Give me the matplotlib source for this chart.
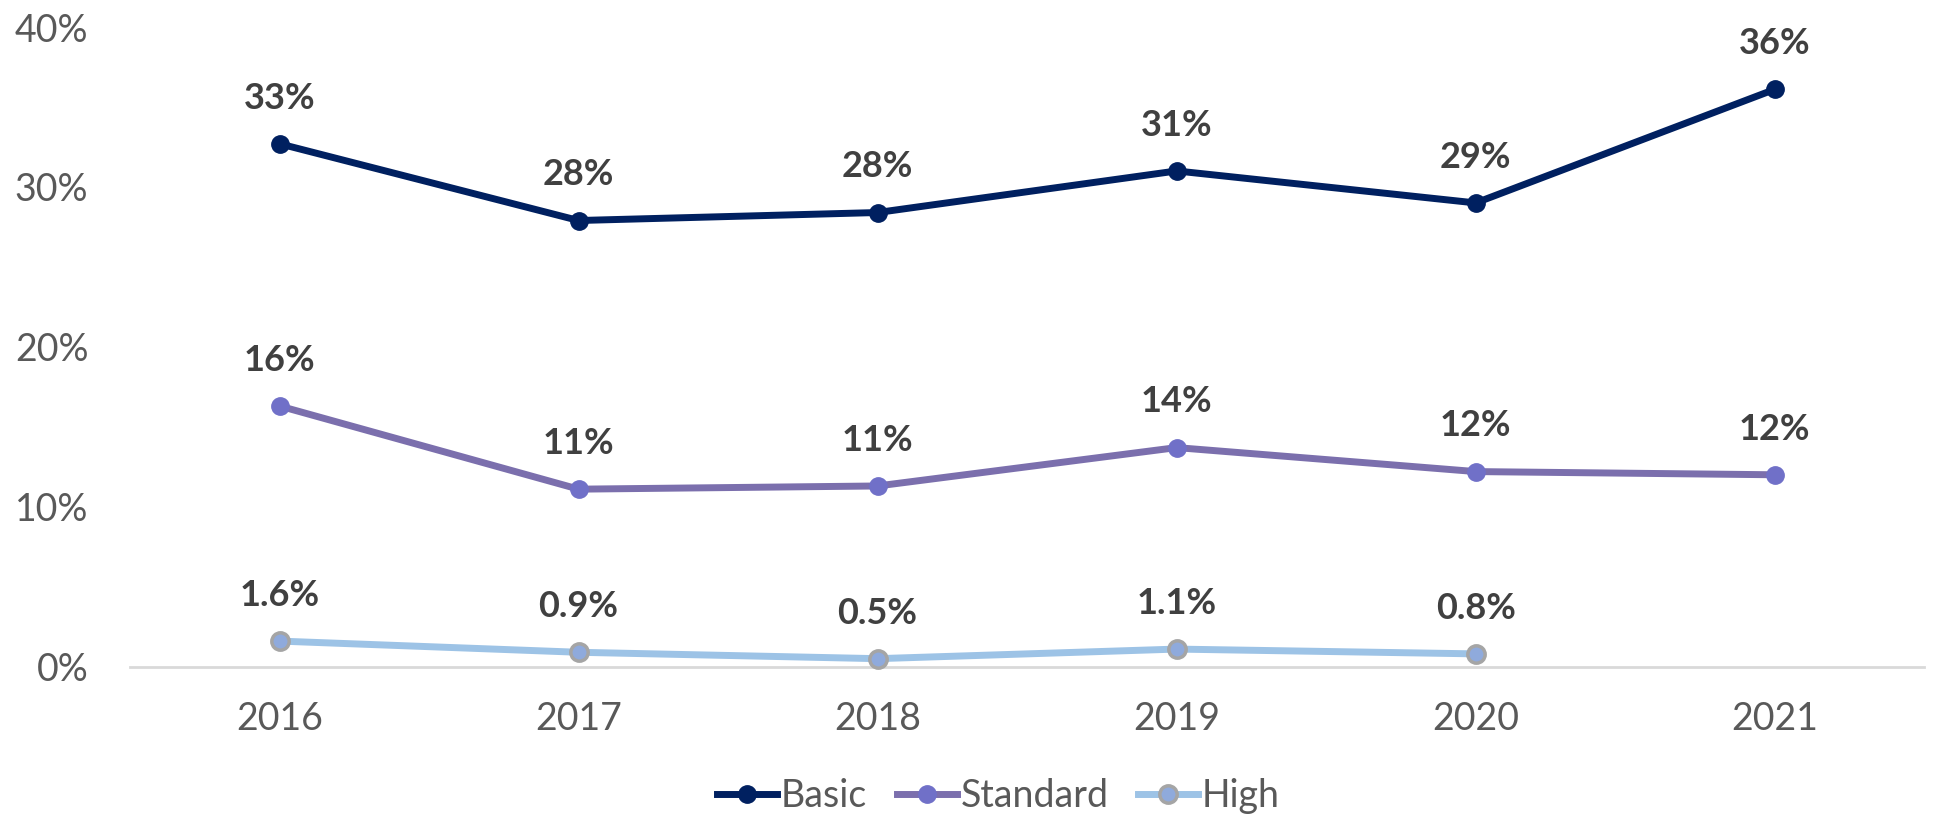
import matplotlib
matplotlib.use("Agg")
import matplotlib.pyplot as plt
from matplotlib.ticker import FuncFormatter

plt.rcParams['font.family'] = ['Lato', 'DejaVu Sans']

years = ['2016', '2017', '2018', '2019', '2020', '2021']
basic = [32.7, 27.9, 28.4, 31.0, 29.0, 36.1]
standard = [16.3, 11.1, 11.3, 13.7, 12.2, 12.0]
high = [1.6, 0.9, 0.5, 1.1, 0.8]

basic_lbl = ['33%', '28%', '28%', '31%', '29%', '36%']
standard_lbl = ['16%', '11%', '11%', '14%', '12%', '12%']
high_lbl = ['1.6%', '0.9%', '0.5%', '1.1%', '0.8%']

fig = plt.figure(figsize=(19.46, 8.19), dpi=100)
ax = fig.add_axes([0.0668, 0.186, 0.922, 0.781])

x = list(range(len(years)))
ax.plot(x, basic, color='#002060', lw=5, marker='o', ms=12.5,
        mfc='#002060', mec='#002060', label='Basic', clip_on=False, zorder=3)
ax.plot(x, standard, color='#7B6FAD', lw=5, marker='o', ms=12.5,
        mfc='#7070C8', mec='#7070C8', label='Standard', clip_on=False, zorder=3)
ax.plot(x[:len(high)], high, color='#9DC3E6', lw=5, marker='o', ms=12.5,
        mfc='#8FAADC', mec='#A5A5A5', mew=2.5, label='High', clip_on=False, zorder=3)

for vals, lbls in [(basic, basic_lbl), (standard, standard_lbl), (high, high_lbl)]:
    for i, (v, t) in enumerate(zip(vals, lbls)):
        ax.annotate(t, (i, v), xytext=(0, 21), textcoords='offset points',
                    ha='center', va='bottom', fontsize=26, fontweight='bold',
                    color='#404040')

ax.set_xlim(-0.5, 5.5)
ax.set_ylim(0, 40)
ax.set_yticks([0, 10, 20, 30, 40])
ax.yaxis.set_major_formatter(FuncFormatter(lambda v, p: f'{v:.0f}%'))
ax.set_xticks(x)
ax.set_xticklabels(years)
for s in ['top', 'right', 'left']:
    ax.spines[s].set_visible(False)
ax.spines['bottom'].set_color('#D9D9D9')
ax.spines['bottom'].set_linewidth(2)
ax.tick_params(axis='both', length=0, labelsize=27, labelcolor='#595959')
ax.tick_params(axis='y', pad=30)
ax.tick_params(axis='x', pad=25)

fig.legend(loc='center', bbox_to_anchor=(0.513, 0.028), ncol=3, frameon=False,
           fontsize=27, labelcolor='#595959', handlelength=1.6, handletextpad=0.1,
           columnspacing=0.8)

fig.savefig('out.png', dpi=100)
